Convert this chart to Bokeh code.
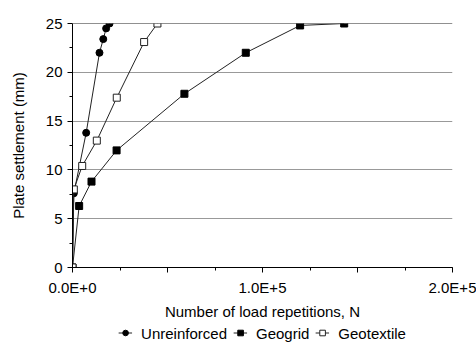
from bokeh.plotting import figure
from bokeh.layouts import column
from bokeh.models import Range1d, FixedTicker, Legend, LegendItem, Span
from bokeh.embed import file_html
from bokeh.resources import INLINE

# Data
unr_n = [0, 700, 7200, 14200, 16200, 17700, 19500]
unr_s = [0, 7.6, 13.8, 22.0, 23.4, 24.5, 25.0]

geogrid_n = [0, 3500, 10000, 23200, 58900, 91200, 119800, 143000]
geogrid_s = [0, 6.3, 8.8, 12.0, 17.8, 22.0, 24.8, 25.0]

geotex_n = [0, 700, 5100, 12800, 23300, 37700, 44700]
geotex_s = [0, 8.0, 10.4, 13.0, 17.4, 23.1, 25.0]

series_names = ["Unreinforced", "Geogrid", "Geotextile"]

x_ticks = [0, 50000, 100000, 150000, 200000]
x_tick_labels = ["0.0E+0", "", "1.0E+5", "", "2.0E+5"]
y_ticks = [0, 5, 10, 15, 20, 25]

FONT = "Liberation Sans"
LINE = "#222222"

p = figure(width=476, height=322, output_backend="svg", toolbar_location=None,
           x_range=Range1d(0, 200000), y_range=Range1d(0, 25),
           min_border_left=72, min_border_right=24, min_border_top=23,
           min_border_bottom=55)
p.outline_line_color = None
p.background_fill_color = "white"

styles = [
    dict(marker="circle", fill_color="black", line_color="black"),
    dict(marker="square", fill_color="black", line_color="black"),
    dict(marker="square", fill_color="white", line_color="#222222"),
]
data = [(unr_n, unr_s), (geogrid_n, geogrid_s), (geotex_n, geotex_s)]

for (xs, ys), st in zip(data, styles):
    p.line(xs, ys, line_color=LINE, line_width=1)
    p.scatter(xs, ys, size=7, **st)

p.add_layout(Span(location=25, dimension="width", line_color="#222222", line_width=1))

# axes
xa = p.xaxis[0]
xa.ticker = FixedTicker(ticks=x_ticks, minor_ticks=[25000 * k for k in range(9)])
xa.major_label_overrides = {t: l for t, l in zip(x_ticks, x_tick_labels)}
xa.axis_label = "Number of load repetitions, N"
ya = p.yaxis[0]
ya.ticker = FixedTicker(ticks=y_ticks, minor_ticks=[2.5, 7.5, 12.5, 17.5, 22.5])
ya.axis_label = "Plate settlement (mm)"

for ax in (xa, ya):
    ax.axis_line_color = "black"
    ax.major_tick_line_color = "black"
    ax.minor_tick_line_color = "black"
    ax.major_tick_in = 0
    ax.major_tick_out = 5
    ax.minor_tick_in = 0
    ax.minor_tick_out = 3
    ax.major_label_text_font = FONT
    ax.major_label_text_font_size = "15px"
    ax.major_label_text_color = "black"
    ax.axis_label_text_font = FONT
    ax.axis_label_text_font_size = "15px"
    ax.axis_label_text_font_style = "normal"
    ax.axis_label_text_color = "black"
xa.major_label_standoff = 6
xa.axis_label_standoff = 4
ya.major_label_standoff = 5
ya.axis_label_standoff = 16

p.xgrid.grid_line_color = None
p.ygrid.grid_line_color = "#999999"
p.ygrid.grid_line_width = 1

# legend strip below the chart (its ranges keep the series out of view)
lg = figure(width=476, height=21, output_backend="svg", toolbar_location=None,
            x_range=Range1d(-2, -1), y_range=Range1d(-2, -1),
            x_axis_location=None, y_axis_location=None,
            min_border_left=44, min_border_right=0, min_border_top=0, min_border_bottom=0)
lg.outline_line_color = None
lg.xgrid.grid_line_color = None
lg.ygrid.grid_line_color = None

items = []
for name, (xs, ys), st in zip(series_names, data, styles):
    rl = lg.line(xs, ys, line_color=LINE, line_width=1)
    rm = lg.scatter(xs, ys, size=7, **st)
    items.append(LegendItem(label=name, renderers=[rl, rm]))

legend = Legend(items=items, orientation="horizontal", location="center")
legend.label_text_font = FONT
legend.label_text_font_size = "15px"
legend.label_text_color = "black"
legend.label_height = 15
legend.glyph_width = 14
legend.glyph_height = 14
legend.label_standoff = 9
legend.spacing = 6
legend.padding = 0
legend.margin = 0
legend.border_line_color = None
legend.background_fill_alpha = 0
lg.add_layout(legend, "center")

layout = column(p, lg, spacing=0)
open("out.html", "w").write(file_html(layout, INLINE))
